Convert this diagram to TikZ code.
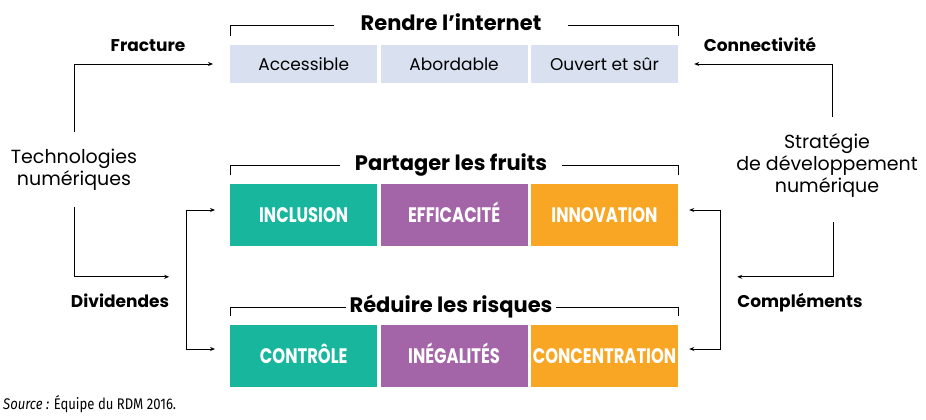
\documentclass[tikz,border=0pt]{standalone}
\usepackage{fontspec}
\setmainfont{Poppins}
\newfontfamily\narrowfont[FakeStretch=0.78]{Poppins}
\newfontfamily\sourcefont[FakeStretch=0.85]{Fira Sans}
\usetikzlibrary{positioning,arrows.meta}

\definecolor{paleblue}{RGB}{217,225,240}
\definecolor{boxteal}{RGB}{24,182,156}
\definecolor{boxpurple}{RGB}{163,101,168}
\definecolor{boxorange}{RGB}{248,166,35}

\tikzset{
  >={Stealth[length=5pt,width=4pt]},
  cell/.style={minimum width=147pt, inner sep=0pt, anchor=west},
  pale/.style={cell, fill=paleblue, minimum height=38pt, font=\fontsize{17}{20}\selectfont},
  strong/.style={cell, minimum height=62pt, text=white, text height=14.5pt, text depth=0pt,
    font=\narrowfont\bfseries\fontsize{21}{23}\selectfont},
  title/.style={font=\bfseries\fontsize{21}{24}\selectfont, text height=15pt, text depth=4pt, inner ysep=0pt},
  side/.style={font=\fontsize{19}{22}\selectfont, align=center, inner sep=0pt},
  sidebold/.style={font=\bfseries\fontsize{17}{20}\selectfont, text height=13pt, text depth=4pt, inner sep=0pt},
  link/.style={line width=0.9pt},
}

\begin{document}
\begin{tikzpicture}[x=1pt,y=-1pt]
  \useasboundingbox (0,0) rectangle (926,420);

  % the three rows of boxes
  \node[pale] (acc) at (230,64) {Accessible};
  \node[pale, right=3pt of acc] (abo) {Abordable};
  \node[pale, right=3pt of abo] (ouv) {Ouvert et sûr};

  \node[strong, fill=boxteal] (incl) at (230,215) {INCLUSION};
  \node[strong, fill=boxpurple, right=3pt of incl] (eff) {EFFICACITÉ};
  \node[strong, fill=boxorange, right=3pt of eff] (inno) {INNOVATION};

  \node[strong, fill=boxteal] (ctrl) at (230,356) {CONTRÔLE};
  \node[strong, fill=boxpurple, right=3pt of ctrl] (ineg) {INÉGALITÉS};
  \node[strong, fill=boxorange, right=3pt of ineg] (conc) {CONCENTRATION};

  % row titles with their brackets
  \node[title, inner xsep=26pt] (ttlnet) at (451,25) {Rendre l’internet};
  \node[title, inner xsep=15pt] (ttlfruit) at (451,165) {Partager les fruits};
  \node[title, inner xsep=3pt] (ttlrisk) at (451,307) {Réduire les risques};
  \draw[link] (ttlnet.west) -| ([yshift=9pt]acc.north west);
  \draw[link] (ttlnet.east) -| ([yshift=9pt]ouv.north east);
  \draw[link] (ttlfruit.west) -| ([yshift=9pt]incl.north west);
  \draw[link] (ttlfruit.east) -| ([yshift=9pt]inno.north east);
  \draw[link] (ttlrisk.west) -| ([yshift=9pt]ctrl.north west);
  \draw[link] (ttlrisk.east) -| ([yshift=9pt]conc.north east);

  % left side
  \node[side] (techno) at (74,170) {Technologies\\numériques};
  \node[sidebold] (fract) at (148,47.5) {Fracture};
  \node[sidebold] (divid) at (120,302.5) {Dividendes};
  \draw[link, ->, shorten <=17pt, shorten >=17pt] (techno.north) |- (acc.west);
  \draw[link, ->, shorten <=16pt] (techno.south) |- ([yshift=17pt]divid.north east);
  \draw[link, <->] ([xshift=-15pt,yshift=5pt]incl.west) -- ++(-29,0) |- ([xshift=-15pt,yshift=7pt]ctrl.west);

  % right side
  \node[side] (strat) at (827,166) {Stratégie\\de développement\\numérique};
  \node[sidebold] (conn) at (760,47.5) {Connectivité};
  \node[sidebold] (compl) at (800,302.5) {Compléments};
  \draw[link, ->, shorten <=17pt, shorten >=16pt] ([xshift=5pt]strat.north) |- (ouv.east);
  \draw[link, ->, shorten <=24pt] ([xshift=6pt]strat.south) |- ([yshift=17pt]compl.north west);
  \draw[link, <->] ([xshift=11pt,yshift=5pt]inno.east) -- ++(31,0) |- ([xshift=11pt,yshift=7pt]conc.east);

  \node[anchor=base west, inner sep=0pt, font=\sourcefont\fontsize{15.4}{17}\selectfont] (src) at (3,409) {\textit{Source :} Équipe du RDM 2016.};
\end{tikzpicture}
\end{document}
